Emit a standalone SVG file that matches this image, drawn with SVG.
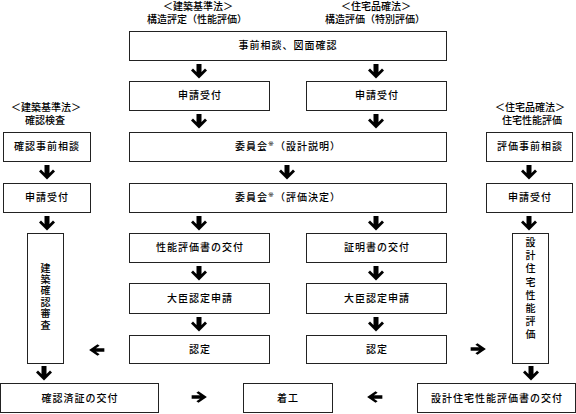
<svg xmlns="http://www.w3.org/2000/svg" xmlns:xlink="http://www.w3.org/1999/xlink" width="576" height="414" viewBox="0 0 576 414">
<style>
.b{fill:#fff;stroke:#222;stroke-width:1}
text{font-family:"Noto Sans CJK JP","Noto Sans CJK SC",sans-serif;font-size:10px;font-weight:500;fill:#000}
.t{text-anchor:middle;letter-spacing:1px}
.h{text-anchor:middle}
.v{text-anchor:middle;writing-mode:vertical-rl}
.s{font-size:7px;fill:#000;font-family:"DejaVu Sans","Noto Sans CJK JP",sans-serif;font-weight:normal}
.a{fill:#000}
</style>
<defs>
<path id="ad" d="M-2.5,-7 H2.5 V1 L6,-2.5 L8,-0.5 L0,7.5 L-8,-0.5 L-6,-2.5 L-2.5,1 Z"/>
</defs>
<rect width="576" height="414" fill="#fff"/>
<g id="headers">
<text class="h" x="198" y="10"><tspan x="198">＜建築基準法＞</tspan><tspan x="197" dy="12.5">構造評定（性能評価）</tspan></text>
<text class="h" x="376" y="10"><tspan x="376">＜住宅品確法＞</tspan><tspan x="375" dy="12.5">構造評価（特別評価）</tspan></text>
<text class="h" x="46" y="111"><tspan x="46">＜建築基準法＞</tspan><tspan x="45" dy="13">確認検査</tspan></text>
<text class="h" x="530" y="111"><tspan x="530">＜住宅品確法＞</tspan><tspan x="532" dy="13">住宅性能評価</tspan></text>
</g>
<g id="n1"><rect class="b" x="129.5" y="31.5" width="317" height="29"/><text class="t" x="288" y="49">事前相談、図面確認</text></g>
<g id="n2"><rect class="b" x="129.5" y="81.5" width="140" height="29"/><text class="t" x="200" y="99">申請受付</text></g>
<g id="n3"><rect class="b" x="306.5" y="81.5" width="140" height="29"/><text class="t" x="377" y="99">申請受付</text></g>
<g id="n4"><rect class="b" x="129.5" y="132.5" width="317" height="29"/><text class="t" x="288" y="150">委員会<tspan class="s" dy="-4">※</tspan><tspan dy="4">（設計説明）</tspan></text></g>
<g id="n5"><rect class="b" x="129.5" y="183.5" width="317" height="29"/><text class="t" x="288" y="201">委員会<tspan class="s" dy="-4">※</tspan><tspan dy="4">（評価決定）</tspan></text></g>
<g id="n6"><rect class="b" x="129.5" y="233.5" width="140" height="29"/><text class="t" x="200" y="251">性能評価書の交付</text></g>
<g id="n7"><rect class="b" x="306.5" y="233.5" width="140" height="29"/><text class="t" x="377" y="251">証明書の交付</text></g>
<g id="n8"><rect class="b" x="129.5" y="283.5" width="140" height="30"/><text class="t" x="200" y="302">大臣認定申請</text></g>
<g id="n9"><rect class="b" x="306.5" y="283.5" width="140" height="30"/><text class="t" x="377" y="302">大臣認定申請</text></g>
<g id="n10"><rect class="b" x="129.5" y="335.5" width="140" height="28"/><text class="t" x="200" y="353">認定</text></g>
<g id="n11"><rect class="b" x="306.5" y="335.5" width="140" height="28"/><text class="t" x="377" y="353">認定</text></g>
<g id="n12"><rect class="b" x="3.5" y="132.5" width="87" height="29"/><text class="t" x="47" y="150">確認事前相談</text></g>
<g id="n13"><rect class="b" x="3.5" y="183.5" width="87" height="29"/><text class="t" x="47" y="201">申請受付</text></g>
<g id="n14"><rect class="b" x="27.5" y="233.5" width="36" height="130"/><text class="v" x="45.5" y="297" letter-spacing="1.4">建築確認審査</text></g>
<g id="n15"><rect class="b" x="486.5" y="132.5" width="86" height="29"/><text class="t" x="530" y="150">評価事前相談</text></g>
<g id="n16"><rect class="b" x="486.5" y="183.5" width="86" height="29"/><text class="t" x="530" y="201">申請受付</text></g>
<g id="n17"><rect class="b" x="512.5" y="233.5" width="36" height="130"/><text class="v" x="530.5" y="290" letter-spacing="3.2">設計住宅性能評価</text></g>
<g id="n18"><rect class="b" x="0.5" y="383.5" width="158" height="29"/><text class="t" x="80" y="401.5">確認済証の交付</text></g>
<g id="n19"><rect class="b" x="243.5" y="383.5" width="89" height="29"/><text class="t" x="288" y="401.5">着工</text></g>
<g id="n20"><rect class="b" x="417.5" y="383.5" width="158" height="29"/><text class="t" x="497" y="401.5">設計住宅性能評価書の交付</text></g>
<g id="connectors" class="a">
<use xlink:href="#ad" transform="translate(199,71)"/>
<use xlink:href="#ad" transform="translate(376,71)"/>
<use xlink:href="#ad" transform="translate(199,121)"/>
<use xlink:href="#ad" transform="translate(376,121)"/>
<use xlink:href="#ad" transform="translate(287,172)"/>
<use xlink:href="#ad" transform="translate(199,223)"/>
<use xlink:href="#ad" transform="translate(376,223)"/>
<use xlink:href="#ad" transform="translate(199,273)"/>
<use xlink:href="#ad" transform="translate(376,273)"/>
<use xlink:href="#ad" transform="translate(199,324)"/>
<use xlink:href="#ad" transform="translate(376,324)"/>
<use xlink:href="#ad" transform="translate(47,172)"/>
<use xlink:href="#ad" transform="translate(47,223)"/>
<use xlink:href="#ad" transform="translate(44,373)"/>
<use xlink:href="#ad" transform="translate(529,172)"/>
<use xlink:href="#ad" transform="translate(529,223)"/>
<use xlink:href="#ad" transform="translate(531,373)"/>
<use xlink:href="#ad" transform="translate(97,350) rotate(90) scale(0.72,1.05)"/>
<use xlink:href="#ad" transform="translate(478,349) rotate(-90) scale(0.72,1.05)"/>
<use xlink:href="#ad" transform="translate(199,397) rotate(-90) scale(0.72,1.05)"/>
<use xlink:href="#ad" transform="translate(375,397) rotate(90) scale(0.72,1.05)"/>
</g>
</svg>
